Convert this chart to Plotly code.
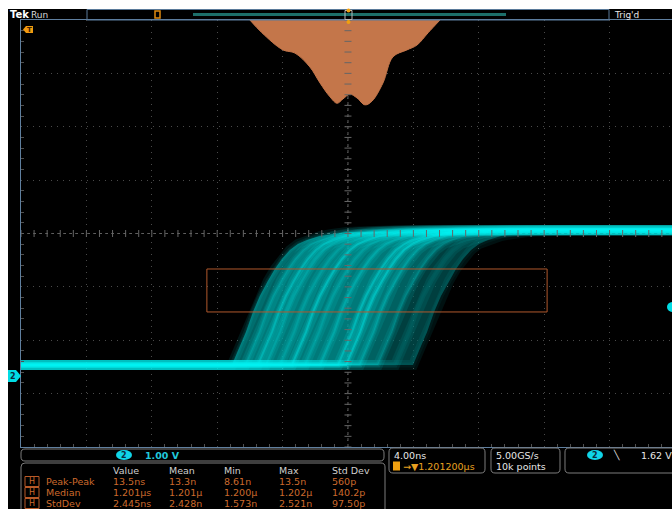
import plotly.graph_objects as go
import numpy as np

# ---------------- data (read from the screen) ----------------
# rising-edge shape: time after edge start (ns) and level (V)
EDGE_DT = [0.0, 0.18, 0.49, 0.86, 1.29, 1.71, 2.20, 2.63, 3.06, 3.55, 4.04, 4.59, 5.39, 6.12, 7.04]
EDGE_V = [0.206, 0.337, 0.562, 0.824, 1.199, 1.499, 1.780, 2.005, 2.192, 2.360, 2.473, 2.548, 2.623, 2.660, 2.698]
# start time of each captured edge (ns) and its persistence brightness
EDGE_START_NS = [-7.10, -6.30, -5.51, -5.02, -4.16, -3.43, -2.63, -1.71,
                 -0.61, -0.12, 0.73, 1.84, 2.88, 3.98]
EDGE_BRIGHT = [0.4, 0.5, 0.75, 0.55, 0.5, 0.85, 0.5, 0.6,
               0.8, 0.9, 0.55, 0.45, 0.3, 0.2]
LOW_V = 0.206
HIGH_V = 2.73

# time histogram (ns, depth in divisions from the top)
HIST_T_NS = [-6.00, -5.26, -3.98, -3.24, -2.33, -1.71, -1.10, -0.67, -0.31,
             0.12, 0.55, 1.04, 1.47, 2.14, 2.75, 3.61, 4.22, 4.90, 5.63]
HIST_DEPTH = [0.0, 0.24, 0.56, 0.62, 0.88, 1.18, 1.44, 1.56, 1.48,
              1.39, 1.46, 1.59, 1.52, 1.18, 0.69, 0.56, 0.47, 0.24, 0.0]

# histogram gate box (ns, V)
GATE_T = [-8.63, 12.18]
GATE_V = [1.20, 2.005]

MEAS_COLS = ["Value", "Mean", "Min", "Max", "Std Dev"]
MEAS_ROWS = ["Peak-Peak", "Median", "StdDev"]
MEAS_VALUES = [
    ["13.5ns", "13.3n", "8.61n", "13.5n", "560p"],
    ["1.201\u00b5s", "1.201\u00b5", "1.200\u00b5", "1.202\u00b5", "140.2p"],
    ["2.445ns", "2.428n", "1.573n", "2.521n", "97.50p"],
]
CH_SCALE = "1.00 V"
TIME_SCALE = "4.00ns"
TRIG_POS = "1.201200\u00b5s"
SAMPLE_RATE = "5.00GS/s"
RECORD_LEN = "10k points"
TRIG_LEVEL = "1.62 V"

# ---------------- scales ----------------
T_RANGE = [-20.0, 19.82]          # graticule is cut by the screen edge on the right
V_RANGE = [-1.330, 6.670]
V_CENTER = 2.670
FIG_W, FIG_H = 672, 509
L, R, T, B = 21, 672, 20, 447     # plot-area edges in screen pixels


def px(x):
    return (x - L) / (R - L)


def py(y):
    return (B - y) / (B - T)


CYAN = "#00f4f4"
ORANGE = "#cc6a2c"
AMBER = "#e8a020"
FONT = "DejaVu Sans"

fig = go.Figure()

# histogram of edge times
hy = [V_RANGE[1] - d for d in HIST_DEPTH]
fig.add_trace(go.Scatter(x=HIST_T_NS, y=hy, mode="lines", fill="toself",
                         fillcolor="#c4764a", line=dict(color="#c4764a", width=1, shape="spline"),
                         hoverinfo="skip", showlegend=False))


def edge(d):
    return [d + t for t in EDGE_DT], list(EDGE_V)


# persistence envelope fills
for i0, i1, col in [(0, len(EDGE_START_NS) - 1, "rgba(0,105,105,0.6)"),
                    (0, 11, "rgba(0,170,170,0.32)"),
                    (1, 10, "rgba(0,200,200,0.24)")]:
    ax, ay = edge(EDGE_START_NS[i0])
    bx, by = edge(EDGE_START_NS[i1])
    fig.add_trace(go.Scatter(x=ax + bx[::-1], y=ay + by[::-1], mode="lines",
                             fill="toself", fillcolor=col, line=dict(width=0),
                             hoverinfo="skip", showlegend=False))

# individual edges (wide glow, mid glow, core)
for d, b in zip(EDGE_START_NS, EDGE_BRIGHT):
    ex, ey = edge(d)
    xs = [T_RANGE[0]] + ex + [ex[-1] + 3.0, T_RANGE[1]]
    ys = [LOW_V] + ey + [HIGH_V, HIGH_V]
    for w, op in ((10, 0.10 * b + 0.05), (5, 0.22 * b), (2, max(0.0, 0.55 * (b - 0.25)))):
        fig.add_trace(go.Scatter(x=xs, y=ys, mode="lines",
                                 line=dict(color=CYAN, width=w),
                                 opacity=op, hoverinfo="skip", showlegend=False))

# centre graticule tick marks
vt = np.arange(V_RANGE[0], V_RANGE[1] + 1e-6, 0.2)
tt = np.arange(-20, 19.9, 0.8)
fig.add_trace(go.Scatter(x=[0] * len(vt), y=vt, mode="markers",
                         marker=dict(symbol="line-ew", size=5, line=dict(color="#666666", width=1)),
                         hoverinfo="skip", showlegend=False))
fig.add_trace(go.Scatter(x=tt, y=[V_CENTER] * len(tt), mode="markers",
                         marker=dict(symbol="line-ns", size=5, line=dict(color="#666666", width=1)),
                         hoverinfo="skip", showlegend=False))

shapes = []
# white page border (left and top)
shapes.append(dict(type="rect", xref="paper", yref="paper", x0=px(-5), x1=px(8), y0=py(520), y1=py(-5),
                   fillcolor="white", line=dict(width=0), layer="above"))
shapes.append(dict(type="rect", xref="paper", yref="paper", x0=px(-5), x1=px(690), y0=py(9), y1=py(-5),
                   fillcolor="white", line=dict(width=0), layer="above"))
# centre cross lines
shapes.append(dict(type="line", xref="x", yref="paper", x0=0, x1=0, y0=0, y1=1,
                   line=dict(color="#5e5e5e", width=1, dash="dot"), layer="below"))
shapes.append(dict(type="line", xref="paper", yref="y", x0=0, x1=1, y0=V_CENTER, y1=V_CENTER,
                   line=dict(color="#5e5e5e", width=1, dash="dot"), layer="below"))
# gate box
shapes.append(dict(type="rect", xref="x", yref="y", x0=GATE_T[0], x1=GATE_T[1], y0=GATE_V[0], y1=GATE_V[1],
                   line=dict(color="#b0582c", width=1), layer="above"))

# top bar
shapes.append(dict(type="rect", xref="paper", yref="paper", x0=px(87), x1=px(609), y0=py(20), y1=py(9.5),
                   line=dict(color="#5a7a9a", width=1)))
shapes.append(dict(type="line", xref="paper", yref="paper", x0=px(193), x1=px(506), y0=py(14.5), y1=py(14.5),
                   line=dict(color="#1d6f6a", width=3)))
shapes.append(dict(type="rect", xref="paper", yref="paper", x0=px(155), x1=px(160), y0=py(18), y1=py(11),
                   line=dict(color="#e08a10", width=1.5)))
shapes.append(dict(type="rect", xref="paper", yref="paper", x0=px(345), x1=px(352), y0=py(19.5), y1=py(10.5),
                   line=dict(color="#b8b8b8", width=1)))
for yy in (10.5, 22):
    shapes.append(dict(type="circle", xref="paper", yref="paper", x0=px(346.5), x1=px(350.5),
                       y0=py(yy + 2), y1=py(yy - 2), fillcolor="#f0a010", line=dict(width=0)))

# trigger-position marker at top-left
shapes.append(dict(type="path", xref="paper", yref="paper",
                   path="M %f,%f L %f,%f L %f,%f L %f,%f L %f,%f Z" % (
                       px(23), py(29.5), px(26), py(26), px(33), py(26), px(33), py(33), px(26), py(33)),
                   fillcolor="#f09a10", line=dict(width=0)))
# channel-2 ground marker
shapes.append(dict(type="path", xref="paper", yref="paper",
                   path="M %f,%f L %f,%f L %f,%f L %f,%f L %f,%f Z" % (
                       px(8), py(370), px(16), py(370), px(21), py(376), px(16), py(382), px(8), py(382)),
                   fillcolor="#00dce4", line=dict(width=0)))
# trigger-level marker on the right
shapes.append(dict(type="circle", xref="paper", yref="paper", x0=px(667), x1=px(678),
                   y0=py(312), y1=py(302), fillcolor="#00dce4", line=dict(width=0)))


def rrect(x0, y0, x1, y1, r=4):
    p = [("M", x0 + r, y0), ("L", x1 - r, y0), ("Q", x1, y0, x1, y0 + r), ("L", x1, y1 - r),
         ("Q", x1, y1, x1 - r, y1), ("L", x0 + r, y1), ("Q", x0, y1, x0, y1 - r), ("L", x0, y0 + r),
         ("Q", x0, y0, x0 + r, y0)]
    s = ""
    for seg in p:
        if seg[0] == "Q":
            s += "Q %f,%f %f,%f " % (px(seg[1]), py(seg[2]), px(seg[3]), py(seg[4]))
        else:
            s += "%s %f,%f " % (seg[0], px(seg[1]), py(seg[2]))
    return dict(type="path", xref="paper", yref="paper", path=s + "Z",
                line=dict(color="#7c7c7c", width=1))


shapes.append(rrect(21, 449, 384, 461))
shapes.append(rrect(21, 463, 385, 530))
shapes.append(rrect(389, 448, 485, 473))
shapes.append(rrect(491, 448, 560, 473))
shapes.append(rrect(565, 448, 700, 473))
# cyan channel badges
for cx in (124, 595):
    shapes.append(dict(type="circle", xref="paper", yref="paper", x0=px(cx - 8), x1=px(cx + 8),
                       y0=py(460), y1=py(450), fillcolor="#10d4e8", line=dict(width=0)))
# H boxes
for ry in (481.5, 492.5, 503.5):
    shapes.append(dict(type="rect", xref="paper", yref="paper", x0=px(25), x1=px(39), y0=py(ry + 5),
                       y1=py(ry - 5), line=dict(color="#b85a28", width=1)))
# amber T icon in time box
shapes.append(dict(type="rect", xref="paper", yref="paper", x0=px(393), x1=px(400), y0=py(470.5),
                   y1=py(461.5), fillcolor="#f0a010", line=dict(width=0)))

ann = []


def text(s, x, y, color="#e0e0e0", size=9, anchor="left", bold=False):
    if bold:
        s = "<b>%s</b>" % s
    ann.append(dict(text=s, x=px(x), y=py(y), xref="paper", yref="paper", xanchor=anchor,
                    yanchor="middle", showarrow=False, font=dict(family=FONT, size=size, color=color)))


text("Tek", 8, 15, "#ffffff", 10, bold=True)
text("Run", 29, 14.5, "#d8d8d8", 9)
text("Trig'd", 612, 14.5, "#e8e8e8", 9)
text("T", 29.5, 29.5, "#402000", 7, "center", True)
text("2", 13, 376, "#0a2a40", 8, "center", True)

text("2", 124, 455, "#0a2a40", 8, "center", True)
text(CH_SCALE, 143, 455, "#20c8dc", 9.5, bold=True)
col_x = [111, 167, 222, 277, 330]
for c, cx in zip(MEAS_COLS, col_x):
    text(c, cx, 470, "#cfcfcf", 9.5)
row_y = [481.5, 492.5, 503.5]
for rname, ry, vals in zip(MEAS_ROWS, row_y, MEAS_VALUES):
    text("H", 32, ry, ORANGE, 8, "center")
    text(rname, 44, ry, ORANGE, 9.5)
    for v, cx in zip(vals, col_x):
        text(v, cx, ry, ORANGE, 9.5)

text(TIME_SCALE, 392, 455, "#e8e8e8", 9.5)
text("\u2192\u25bc" + TRIG_POS, 401, 466, AMBER, 9.5)
text(SAMPLE_RATE, 494, 455, "#e8e8e8", 9.5)
text(RECORD_LEN, 494, 466, "#e8e8e8", 9.5)
text("2", 595, 455, "#0a2a40", 8, "center", True)
text("\u2572", 611, 455, "#e8e8e8", 9)
text(TRIG_LEVEL, 639, 455, "#e8e8e8", 9.5)

fig.update_layout(
    width=FIG_W, height=FIG_H, autosize=False,
    margin=dict(l=L, r=FIG_W - R, t=T, b=FIG_H - B, pad=0),
    paper_bgcolor="black", plot_bgcolor="black",
    shapes=shapes, annotations=ann, showlegend=False,
    xaxis=dict(range=T_RANGE, showticklabels=False, zeroline=False,
               showgrid=True, gridcolor="#4a4a4a", griddash="1px,5px", gridwidth=1,
               dtick=4, tick0=0, ticks="", showline=True, linecolor="#5f7f9f", linewidth=1, mirror=True,
               minor=dict(dtick=0.8, tick0=0, ticks="inside", ticklen=3, tickcolor="#505050", showgrid=False)),
    yaxis=dict(range=V_RANGE, showticklabels=False, zeroline=False,
               showgrid=True, gridcolor="#4a4a4a", griddash="1px,5px", gridwidth=1,
               dtick=1, tick0=V_CENTER, ticks="", showline=True, linecolor="#5f7f9f", linewidth=1, mirror=True,
               minor=dict(dtick=0.2, tick0=V_CENTER, ticks="inside", ticklen=3, tickcolor="#505050", showgrid=False)),
)

fig.write_html("out.html", config={"displayModeBar": False, "staticPlot": True},
               post_script="document.documentElement.style.overflow='hidden';"
                           "document.body.style.margin='0px';")
